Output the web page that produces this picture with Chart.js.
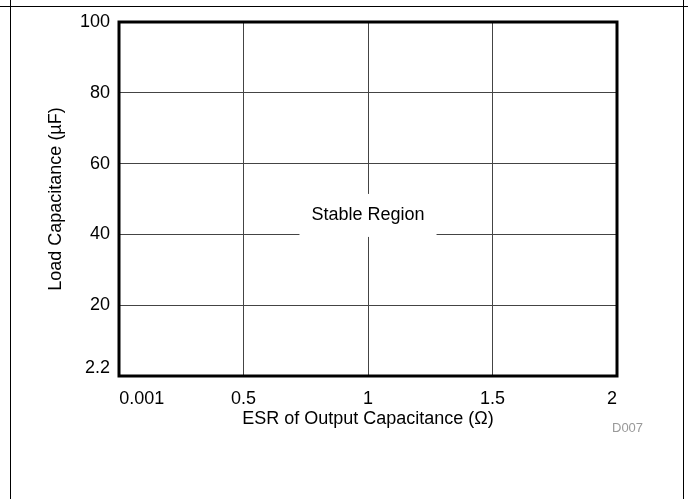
<!DOCTYPE html>
<html>
<head>
<meta charset="utf-8">
<script src="https://cdn.jsdelivr.net/npm/chart.js@4/dist/chart.umd.min.js"></script>
<style>
  html, body { margin: 0; padding: 0; background: #fff; }
  #wrap { position: relative; width: 688px; height: 499px; overflow: hidden; }
  .fr { position: absolute; background: #000; }
  #note { position: absolute; left: 612px; top: 420px; font: 13px 'Liberation Sans', Arial, sans-serif; color: #999; }
  canvas { position: absolute; left: 0; top: 0; }
</style>
</head>
<body>
<div id="wrap">
  <canvas id="c" width="688" height="499"></canvas>
  <div class="fr" style="left:0;top:6px;width:688px;height:1px"></div>
  <div class="fr" style="left:10px;top:0;width:1px;height:499px"></div>
  <div class="fr" style="left:683px;top:0;width:1px;height:499px"></div>
  <div id="note">D007</div>
</div>
<script>
// ---- data ----
const xTickValues = [0.001, 0.5, 1, 1.5, 2];
const xTickLabels = ['0.001', '0.5', '1', '1.5', '2'];
const yTickValues = [2.2, 20, 40, 60, 80, 100];
const yTickLabels = ['2.2', '20', '40', '60', '80', '100'];
const xTitle = 'ESR of Output Capacitance (\u03A9)';
const yTitle = 'Load Capacitance (\u00B5F)';
const regionLabel = 'Stable Region';
const regionAt = [1, 45.5];   // ESR, capacitance where the label sits

const FONT = "'Liberation Sans', Arial, sans-serif";

const frameAndLabel = {
  id: 'frameAndLabel',
  afterDraw(chart) {
    const {ctx, chartArea: a, scales} = chart;
    ctx.save();
    // region label with white backdrop
    ctx.font = '18px ' + FONT;
    const px = scales.x.getPixelForValue(regionAt[0]);
    const py = scales.y.getPixelForValue(regionAt[1]);
    const w = ctx.measureText(regionLabel).width;
    ctx.fillStyle = '#fff';
    ctx.fillRect(px - w / 2 - 12, py - 21, w + 24, 43);
    ctx.fillStyle = '#000';
    ctx.textAlign = 'center';
    ctx.textBaseline = 'middle';
    ctx.fillText(regionLabel, px, py);
    // plot frame
    ctx.strokeStyle = '#000';
    ctx.lineWidth = 3;
    ctx.strokeRect(a.left, a.top, a.right - a.left, a.bottom - a.top);
    ctx.restore();
  }
};

new Chart(document.getElementById('c'), {
  type: 'scatter',
  data: { datasets: [] },
  plugins: [frameAndLabel],
  options: {
    responsive: false,
    animation: false,
    devicePixelRatio: 1,
    layout: { padding: { left: 0, top: 22, right: 71, bottom: 0 } },
    plugins: { legend: { display: false }, tooltip: { enabled: false } },
    scales: {
      x: {
        type: 'linear', min: 0, max: 2,
        afterBuildTicks: s => { s.ticks = xTickValues.map(v => ({ value: v })); },
        afterFit: s => { s.height = 123; },
        border: { display: false },
        grid: {
          drawTicks: false, lineWidth: 1,
          color: c => (c.index === 0 || c.index === xTickValues.length - 1) ? 'rgba(0,0,0,0)' : '#444'
        },
        ticks: {
          autoSkip: false, maxRotation: 0, minRotation: 0, align: 'inner',
          padding: 12, color: '#000', font: { family: FONT, size: 18 },
          callback: (v, i) => xTickLabels[i]
        },
        title: { display: true, text: xTitle, color: '#000', font: { family: FONT, size: 18 }, padding: { top: 0, bottom: 69 } }
      },
      y: {
        type: 'linear', min: 0, max: 100,
        afterBuildTicks: s => { s.ticks = yTickValues.map(v => ({ value: v })); },
        afterFit: s => { s.width = 119; },
        border: { display: false },
        grid: {
          drawTicks: false, lineWidth: 1,
          color: c => (c.index === 0 || c.index === yTickValues.length - 1) ? 'rgba(0,0,0,0)' : '#444'
        },
        ticks: {
          autoSkip: false, padding: 9, color: '#000', font: { family: FONT, size: 18 },
          callback: (v, i) => yTickLabels[i]
        },
        title: { display: true, text: yTitle, color: '#000', font: { family: FONT, size: 18 }, padding: { top: 45, bottom: 0 } }
      }
    }
  }
});
</script>
</body>
</html>
